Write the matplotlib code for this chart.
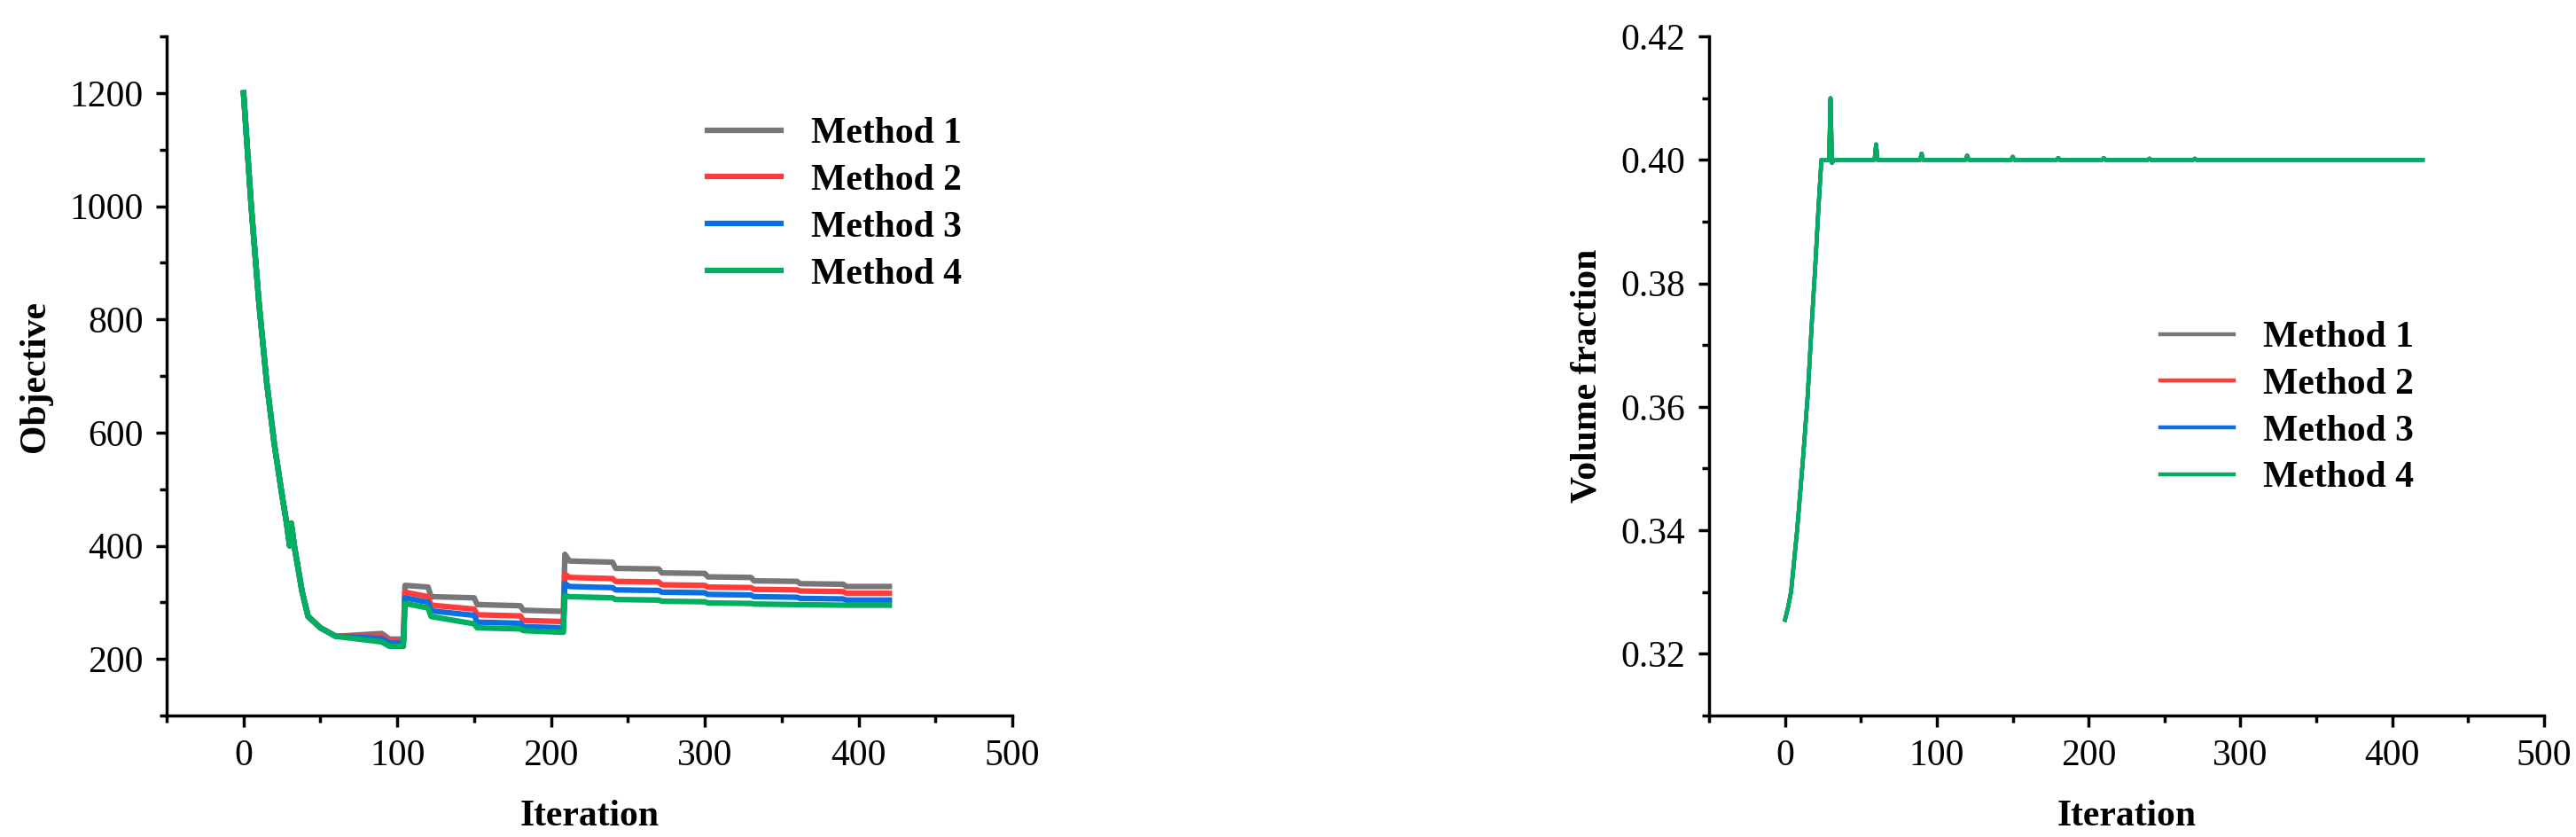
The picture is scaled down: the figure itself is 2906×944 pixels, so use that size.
import matplotlib
matplotlib.use("Agg")
import matplotlib.pyplot as plt
from matplotlib.ticker import MultipleLocator

plt.rcParams['font.family'] = ['Liberation Serif', 'DejaVu Serif']

labels = ["Method 1", "Method 2", "Method 3", "Method 4"]
colors = ["#777777", "#ff3b3b", "#0a6fe0", "#00b060"]

# Shared early decay of the objective
early_it = [0, 5, 10, 15, 20, 25, 28, 30, 31, 33, 38, 42, 50, 60]
early_obj = [1200, 1000, 830, 690, 580, 490, 440, 400, 440, 400, 320, 275, 255, 240]

# Step sections after iteration 60 (iteration, value) per method
late_it = [60, 90, 95, 104, 105, 120, 122, 150, 152, 180, 182, 208, 209, 212,
           240, 242, 270, 272, 300, 302, 330, 332, 360, 362, 390, 392, 420]
obj_m1 = [245, 245, 235, 235, 330, 327, 310, 308, 296, 294, 286, 284, 385, 373,
          371, 360, 359, 352, 351, 345, 344, 338, 337, 333, 332, 328, 328]
obj_m2 = [242, 240, 232, 232, 318, 310, 295, 288, 278, 276, 268, 266, 350, 344,
          342, 337, 336, 331, 330, 327, 326, 323, 322, 320, 319, 316, 316]
obj_m3 = [238, 236, 228, 228, 308, 300, 285, 277, 265, 263, 257, 255, 333, 328,
          326, 322, 321, 318, 317, 314, 313, 310, 309, 307, 306, 304, 304]
obj_m4 = [235, 230, 222, 222, 298, 290, 275, 262, 255, 253, 250, 247, 312, 310,
          308, 305, 304, 302, 301, 299, 298, 297, 296, 296, 295, 295, 295]
late_objs = [obj_m1, obj_m2, obj_m3, obj_m4]

# Volume fraction (same for all methods)
vf_it = [0, 2, 4, 6, 8, 10, 12, 15, 18, 20, 22, 24, 29, 30, 31, 32, 59, 60, 61,
         89, 90, 91, 119, 120, 121, 149, 150, 151, 179, 180, 181, 209, 210, 211,
         239, 240, 241, 269, 270, 271, 420]
vf_val = [0.3255, 0.3275, 0.330, 0.335, 0.340, 0.346, 0.352, 0.362, 0.375, 0.383,
          0.392, 0.400, 0.400, 0.410, 0.3995, 0.400, 0.400, 0.4025, 0.400,
          0.400, 0.401, 0.400, 0.400, 0.4007, 0.400, 0.400, 0.4005, 0.400,
          0.400, 0.4003, 0.400, 0.400, 0.4003, 0.400, 0.400, 0.4002, 0.400,
          0.400, 0.4002, 0.400, 0.400]

fig = plt.figure(figsize=(29.06, 9.44), dpi=100)
ax1 = fig.add_axes([188/2906, 1-807/944, (1142-188)/2906, (807-41)/944])
ax2 = fig.add_axes([1928/2906, 1-807/944, (2870-1928)/2906, (807-41)/944])

for lab, c, lo in zip(labels, colors, late_objs):
    ax1.plot(early_it + late_it[1:], early_obj + lo[1:], color=c, lw=4.5, label=lab)
for lab, c in zip(labels, colors):
    ax2.plot(vf_it, vf_val, color=c, lw=3.2, label=lab)

FS = 30
ax1.set_xlim(-50, 500)
ax1.set_ylim(100, 1300)
ax1.yaxis.set_major_locator(MultipleLocator(200))
ax1.yaxis.set_minor_locator(MultipleLocator(100))
ax1.set_ylabel("Objective", fontsize=FS, fontweight='bold', labelpad=14)
ax1.legend(loc='upper left', bbox_to_anchor=(0.6, 0.93), frameon=False,
           prop={'size': FS, 'weight': 'bold'}, handlelength=2.0, labelspacing=0.35)

ax2.set_xlim(-50, 500)
ax2.set_ylim(0.31, 0.42)
ax2.yaxis.set_major_locator(MultipleLocator(0.02))
ax2.yaxis.set_minor_locator(MultipleLocator(0.01))
ax2.yaxis.set_major_formatter(matplotlib.ticker.FormatStrFormatter('%.2f'))
ax2.set_ylabel("Volume fraction", fontsize=FS, fontweight='bold', labelpad=14)
ax2.legend(loc='upper left', bbox_to_anchor=(0.5, 0.63), frameon=False,
           prop={'size': FS, 'weight': 'bold'}, handlelength=2.0, labelspacing=0.35)

for ax in (ax1, ax2):
    ax.xaxis.set_major_locator(MultipleLocator(100))
    ax.xaxis.set_minor_locator(MultipleLocator(50))
    ax.set_xlabel("Iteration", fontsize=FS, fontweight='bold', labelpad=22)
    for s in ('top', 'right'):
        ax.spines[s].set_visible(False)
    for s in ('left', 'bottom'):
        ax.spines[s].set_linewidth(2.5)
    ax.tick_params(which='major', direction='out', length=9, width=2.5,
                   labelsize=FS, pad=10)
    ax.tick_params(which='minor', direction='out', length=6, width=2.5)

fig.savefig("out.png", dpi=100)
